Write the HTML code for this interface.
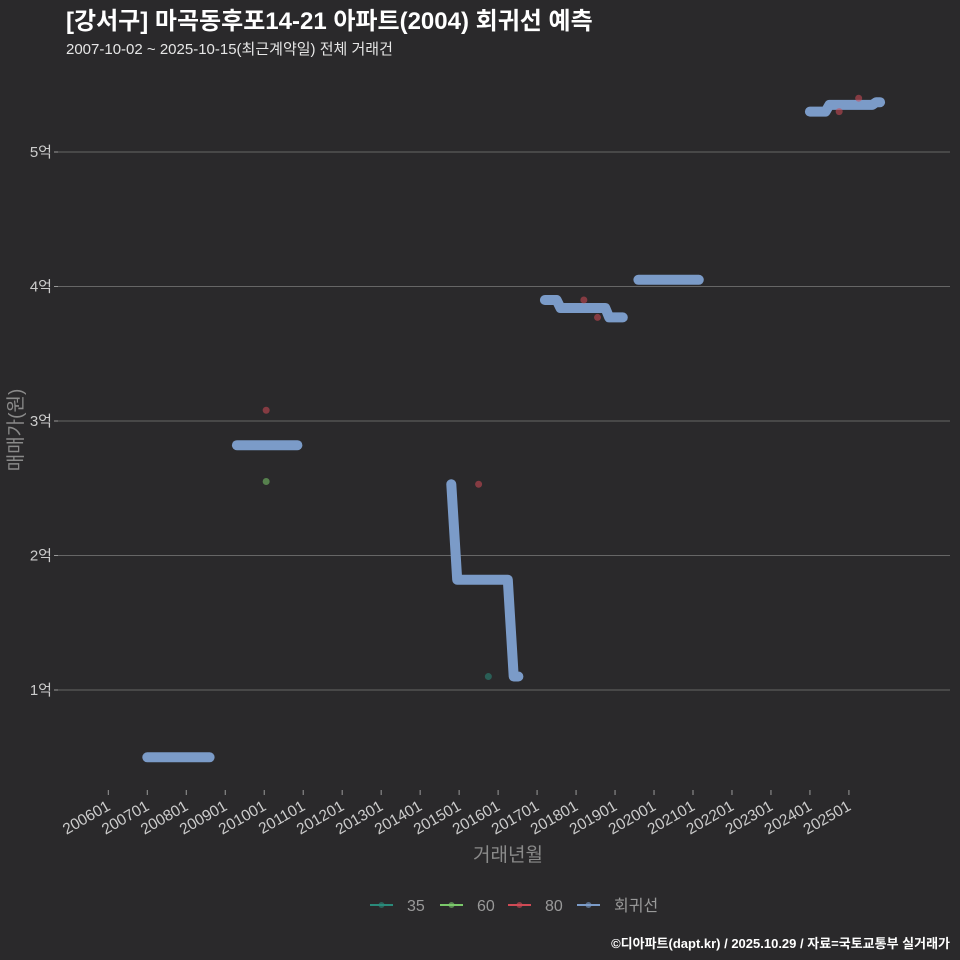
<!DOCTYPE html>
<html><head><meta charset="utf-8"><style>
body{margin:0;background:#2a292b;}
svg{display:block;font-family:"Liberation Sans","Noto Sans CJK KR",sans-serif;}
</style></head><body>
<svg id="chart" width="960" height="960">
<rect width="960" height="960" fill="#2a292b"/>
<text x="66" y="29" font-size="24" font-weight="bold" fill="#ffffff">[강서구] 마곡동후포14-21 아파트(2004) 회귀선 예측</text>
<text x="66" y="54" font-size="15" fill="#e6e6e6">2007-10-02 ~ 2025-10-15(최근계약일) 전체 거래건</text>
<g id="grid"></g><g id="yt"></g><g id="xt"></g><g id="reg"></g><g id="pts"></g>
<text transform="translate(22,430) rotate(-90)" text-anchor="middle" font-size="19" fill="#8a8a8a">매매가(원)</text>
<text x="508" y="861" text-anchor="middle" font-size="19" fill="#8a8a8a">거래년월</text>
<g id="legend"></g>
<text x="950" y="948" text-anchor="end" font-size="13" font-weight="bold" fill="#ffffff">©디아파트(dapt.kr) / 2025.10.29 / 자료=국토교통부 실거래가</text>
</svg>
<script>
const yTicks=[1,2,3,4,5];
const xTickYears=[2006,2007,2008,2009,2010,2011,2012,2013,2014,2015,2016,2017,2018,2019,2020,2021,2022,2023,2024,2025];
const regSegments=[
 [[2007.0,0.50],[2008.6,0.50]],
 [[2009.3,2.82],[2010.85,2.82]],
 [[2014.8,2.53],[2014.95,1.82],[2016.25,1.82],[2016.4,1.10],[2016.52,1.10]],
 [[2017.2,3.90],[2017.5,3.90],[2017.6,3.84],[2018.75,3.84],[2018.85,3.77],[2019.2,3.77]],
 [[2019.6,4.05],[2021.15,4.05]],
 [[2024.0,5.30],[2024.4,5.30],[2024.5,5.35],[2025.6,5.35],[2025.7,5.37],[2025.8,5.37]]
];
const ptDates=[2010.05,2010.05,2015.5,2015.75,2018.2,2018.55,2024.75,2025.25];
const ptValues=[3.08,2.55,2.53,1.10,3.90,3.77,5.30,5.40];
const ptSizes=["80","60","80","35","80","80","80","80"];
const sizeColors={"35":"#2a8a7a","60":"#7ac86a","80":"#d04a55"};
const NS="http://www.w3.org/2000/svg";
const X=y=>108.3+(y-2006)*38.98;
const Y=v=>824.5-v*134.5;
function mk(t,a,p){const e=document.createElementNS(NS,t);for(const k in a)e.setAttribute(k,a[k]);p.appendChild(e);return e;}
const g=id=>document.getElementById(id);
yTicks.forEach(v=>{
 const l=mk('line',{x1:58,x2:950,y1:Y(v),y2:Y(v),stroke:'#666',"stroke-width":1},g('grid'));
 
 
 mk('line',{x1:54,x2:58,y1:Y(v),y2:Y(v),stroke:'#999'},g('yt'));
 const t=mk('text',{x:52,y:Y(v)+5,"text-anchor":"end","font-size":15,fill:'#cccccc'},g('yt'));
 t.textContent=v+'억';
 
 
});
xTickYears.forEach(yr=>{
 const x=X(yr);
 mk('line',{x1:x,x2:x,y1:790,y2:795,stroke:'#999'},g('xt'));
 const t=mk('text',{transform:`translate(${x+3},809) rotate(-30)`,"text-anchor":"end","font-size":15.5,fill:'#cccccc'},g('xt'));
 t.textContent=yr+'01';
 
 
});
regSegments.forEach(seg=>{
 const d=seg.map((p,i)=>(i?'L':'M')+X(p[0]).toFixed(1)+','+Y(p[1]).toFixed(1)).join(' ');
 const p=mk('path',{d:d,fill:'none',stroke:'#7b9bc8',"stroke-width":10,"stroke-linecap":"round","stroke-linejoin":"round"},g('reg'));
 
 
});
ptDates.forEach((d,i)=>{
 const c=mk('circle',{cx:X(d),cy:Y(ptValues[i]),r:3.5,fill:sizeColors[ptSizes[i]],"fill-opacity":0.55},g('pts'));
 
 
});
const leg=[["35","#2a8a7a",370],["60","#7ac86a",440],["80","#d04a55",508],["회귀선","#7b9bc8",577]];
leg.forEach(([lab,col,x])=>{
 const gg=mk('g',{},g('legend'));
 
 
 mk('line',{x1:x,x2:x+23,y1:905,y2:905,stroke:col,"stroke-width":2},gg);
 mk('circle',{cx:x+11.5,cy:905,r:3,fill:col,"fill-opacity":0.6},gg);
 const t=mk('text',{x:x+37,y:911,"font-size":16,fill:'#999'},gg);
 t.textContent=lab;
});
</script>
</body></html>
